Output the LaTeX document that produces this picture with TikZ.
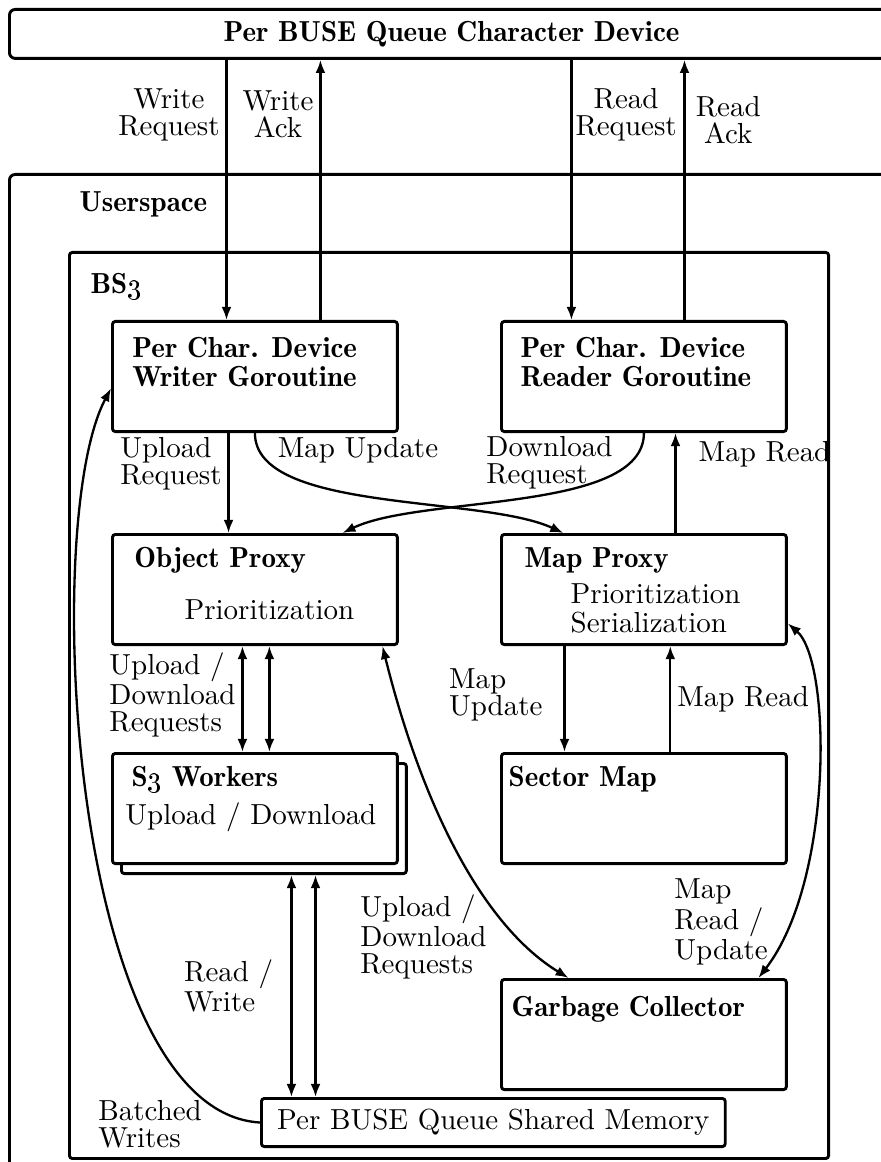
\documentclass[tikz,border=0pt]{standalone}
\usetikzlibrary{positioning,arrows.meta}

\tikzset{
  frame/.style={draw, line width=1pt, rounded corners=2pt, anchor=north west, inner sep=0pt},
  box/.style={draw, line width=1pt, rounded corners=1pt, fill=white, anchor=north west,
    inner sep=0pt, minimum width=98.3pt, minimum height=38pt},
  title/.style={font=\fontsize{10}{10}\fontseries{b}\selectfont, align=left, inner sep=0pt},
  sub/.style={font=\fontsize{10}{10}\selectfont, align=left, inner sep=0pt},
  lbl/.style={font=\fontsize{10}{9.3}\selectfont, align=left, inner sep=2pt},
  clbl/.style={lbl, align=center},
  link/.style={thick},
}

\begin{document}
\begin{tikzpicture}[x=0.345pt, y=-0.345pt, >={Latex[length=4.5pt,width=3.4pt]}]
		\useasboundingbox (0,0) rectangle (880,1162);

		% frames
		\node[frame, minimum width=305pt, minimum height=16.9pt, font=\fontseries{b}\selectfont] (dev) at (8,8) {Per BUSE Queue Character Device};
		\node[frame, minimum width=308pt, minimum height=351pt] (usr) at (8,173) {};
		\node[title, below right=6.2pt and 24.5pt of usr.north west] (usrt) {Userspace};
		\node[frame, rounded corners=1pt, minimum width=261.9pt, minimum height=312.6pt] (bs) at (68,251) {};
		\node[title, below right=7.6pt and 7.6pt of bs.north west] (bst) {BS\oldstylenums{3}};

		% boxes
		\node[box] (wrt) at (111,320) {};
		\node[title, below right=5.9pt and 7.2pt of wrt.north west] (wrtt) {Per Char. Device\\Writer Goroutine};
		\node[box] (rdr) at (500,320) {};
		\node[title, below right=5.9pt and 6.9pt of rdr.north west] (rdrt) {Per Char. Device\\Reader Goroutine};
		\node[box] (obj) at (111,533) {};
		\node[title, below right=4.8pt and 7.9pt of obj.north west] (objt) {Object Proxy};
		\node[sub, anchor=base] (objs) at ([xshift=5pt, yshift=-30pt]obj.north) {Prioritization};
		\node[box] (mapp) at (500,533) {};
		\node[title, below right=4.8pt and 8.3pt of mapp.north west] (mappt) {Map Proxy};
		\node[sub, below right=17.3pt and 24.2pt of mapp.north west] (mapps) {Prioritization\\Serialization};
		\node[box] (wkrb) at (120,762) {};
		\node[box] (wkr) at (111,752) {};
		\node[title, below right=4.8pt and 6.9pt of wkr.north west] (wkrt) {S\oldstylenums{3} Workers};
		\node[sub, below right=17.3pt and 4.8pt of wkr.north west] (wkrs) {Upload / Download};
		\node[box] (sec) at (500,752) {};
		\node[title, below right=4.8pt and 2.8pt of sec.north west] (sect) {Sector Map};
		\node[box] (gc) at (500,978) {};
		\node[title, below right=6.2pt and 3.8pt of gc.north west] (gct) {Garbage Collector};
		\node[box, minimum width=160pt, minimum height=16.6pt] (shm) at (260,1097) {Per BUSE Queue Shared Memory};

		% character device
		\draw[link, ->] ([xshift=-9.8pt]wrt.north |- dev.south) -- node[clbl, left, pos=0.21] (lwr) {Write\\Request} ([xshift=-9.8pt]wrt.north);
		\draw[link, ->] ([xshift=22.6pt]wrt.north) -- node[clbl, left, pos=0.79] (lwa) {Write\\Ack} ([xshift=22.6pt]wrt.north |- dev.south);
		\draw[link, ->] ([xshift=-25pt]rdr.north |- dev.south) -- node[clbl, right, pos=0.21, inner sep=1pt] (lrr) {Read\\Request} ([xshift=-25pt]rdr.north);
		\draw[link, ->] ([xshift=14pt]rdr.north) -- node[clbl, right, pos=0.77, xshift=1.5pt] (lra) {Read\\Ack} ([xshift=14pt]rdr.north |- dev.south);

		% goroutines to proxies
		\draw[link, ->] ([xshift=-9.1pt]wrt.south) -- node[lbl, left, pos=0.31] (lur) {Upload\\Request} ([xshift=-9.1pt]wrt.south |- obj.north);
		\draw[link, ->] (wrt.south) .. controls +(0,80) and +(-82,-38) .. ([xshift=-27.8pt]mapp.north);
		\node[lbl] (lmu) at (358,450) {Map Update};
		\draw[link, ->] (rdr.south) .. controls +(0,80) and +(79,-38) .. ([xshift=30.2pt]obj.north);
		\node[lbl, anchor=west] (ldr) at (480,463) {Download\\Request};
		\draw[link, ->] ([xshift=10.9pt]mapp.north) -- node[lbl, right, pos=0.79, xshift=5.6pt] (lmr) {Map Read} ([xshift=10.9pt]mapp.north |- rdr.south);

		% proxies to workers, map and collector
		\draw[link, <->] ([xshift=-4.3pt]obj.south) -- node[lbl, left, pos=0.46] (ludr) {Upload /\\Download\\Requests} ([xshift=-4.3pt]obj.south |- wkr.north);
		\draw[link, <->] ([xshift=5pt]obj.south) -- ([xshift=5pt]obj.south |- wkr.north);
		\draw[link, <->] ([xshift=9.5pt]wkrb.south) -- node[lbl, left, pos=0.5, xshift=-3.9pt] (lrw) {Read /\\Write} ([xshift=9.5pt]wkrb.south |- shm.north);
		\draw[link, <->] ([xshift=17.8pt]wkrb.south) -- ([xshift=17.8pt]wkrb.south |- shm.north);
		\draw[link, ->] ([xshift=-27.4pt]mapp.south) -- node[lbl, left, pos=0.46, xshift=-5.2pt] (lmup) {Map\\Update} ([xshift=-27.4pt]mapp.south |- sec.north);
		\draw[link, ->] ([xshift=9.1pt]sec.north) -- node[lbl, right, pos=0.5] (lmrd) {Map Read} ([xshift=9.1pt]sec.north |- mapp.south);
		\draw[link, <->] ([xshift=44pt]obj.south) .. controls +(39,157) and +(-87,-53) .. ([xshift=-26pt]gc.north);
		\node[lbl, anchor=west] (lgc) at (354,937) {Upload /\\Download\\Requests};
		\draw[link, <->] ([yshift=-11.7pt]mapp.east) .. controls +(44,38) and +(75,-97) .. ([xshift=39.5pt]gc.north);
		\node[lbl, anchor=west] (lmru) at (668,922) {Map\\Read /\\Update};
		\draw[link, ->] (shm.west) .. controls +(-190,-11) and +(-71,133) .. ([yshift=-4.1pt]wrt.west);
		\node[lbl, anchor=west] (lbw) at (92,1124) {Batched\\Writes};
	\end{tikzpicture}
\end{document}
